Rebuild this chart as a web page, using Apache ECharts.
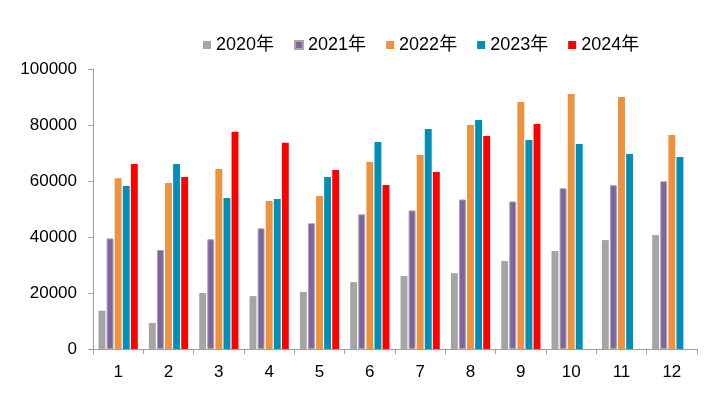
<!DOCTYPE html>
<html><head><meta charset="utf-8">
<script src="https://cdn.jsdelivr.net/npm/echarts@6/dist/echarts.min.js"></script>
<style>html,body{margin:0;padding:0;background:#fff}#c{width:718px;height:394px}</style>
</head><body><div id="c"></div>
<script>
var categories = ['1','2','3','4','5','6','7','8','9','10','11','12'];
var seriesNames = ['2020年','2021年','2022年','2023年','2024年'];
var s2020 = [13700, 9300, 20000, 18900, 20400, 23900, 26100, 27100, 31400, 35000, 38900, 40700];
var s2021 = [39500, 35400, 39200, 43100, 44900, 48100, 49500, 53400, 52700, 57400, 58500, 59900];
var s2022 = [61000, 59300, 64300, 52900, 54600, 66800, 69300, 80000, 88200, 91100, 90000, 76400];
var s2023 = [58200, 66100, 53900, 53600, 61400, 73900, 78600, 81800, 74600, 73200, 69600, 68600];
var s2024 = [66100, 61400, 77600, 73700, 63900, 58600, 63200, 76100, 80400, null, null, null];
var yTicks = [0, 20000, 40000, 60000, 80000, 100000];

var colors = ['#a5a5a5', '#8064a2', '#ed933f', '#0090b6', '#ff0000'];
var font = 'Liberation Sans, Noto Sans CJK SC, sans-serif';
var allData = [s2020, s2021, s2022, s2023, s2024];
var chart = echarts.init(document.getElementById('c'));
chart.setOption({
  animation: false,
  color: colors,
  legend: {
    top: 31, left: 198,
    itemWidth: 8, itemHeight: 8, itemGap: 20,
    icon: 'rect',
    textStyle: { fontFamily: font, fontSize: 18, color: '#000' },
    data: seriesNames
  },
  grid: { left: 93, right: 21, top: 69, bottom: 45 },
  xAxis: {
    type: 'category', data: categories,
    axisLine: { lineStyle: { color: '#a0a0a0', width: 1 } },
    axisTick: { show: true, length: 5, lineStyle: { color: '#a0a0a0' } },
    axisLabel: { fontFamily: font, fontSize: 17, color: '#000', margin: 15 }
  },
  yAxis: {
    type: 'value', min: yTicks[0], max: yTicks[yTicks.length-1], interval: 20000,
    axisLine: { show: true, lineStyle: { color: '#a0a0a0' } },
    axisTick: { show: true, length: 5, lineStyle: { color: '#a0a0a0' } },
    splitLine: { show: false },
    axisLabel: { fontFamily: font, fontSize: 17, color: '#000', margin: 16,
      formatter: function (v) { return String(v); } }
  },
  series: seriesNames.map(function (n, i) {
    return {
      name: n, type: 'bar', data: allData[i],
      barGap: '17%', barCategoryGap: '22%',
      itemStyle: i === 1 ? { color: colors[1], borderColor: '#a5a5a5', borderWidth: 1 } : { color: colors[i] }
    };
  })
});
</script></body></html>
